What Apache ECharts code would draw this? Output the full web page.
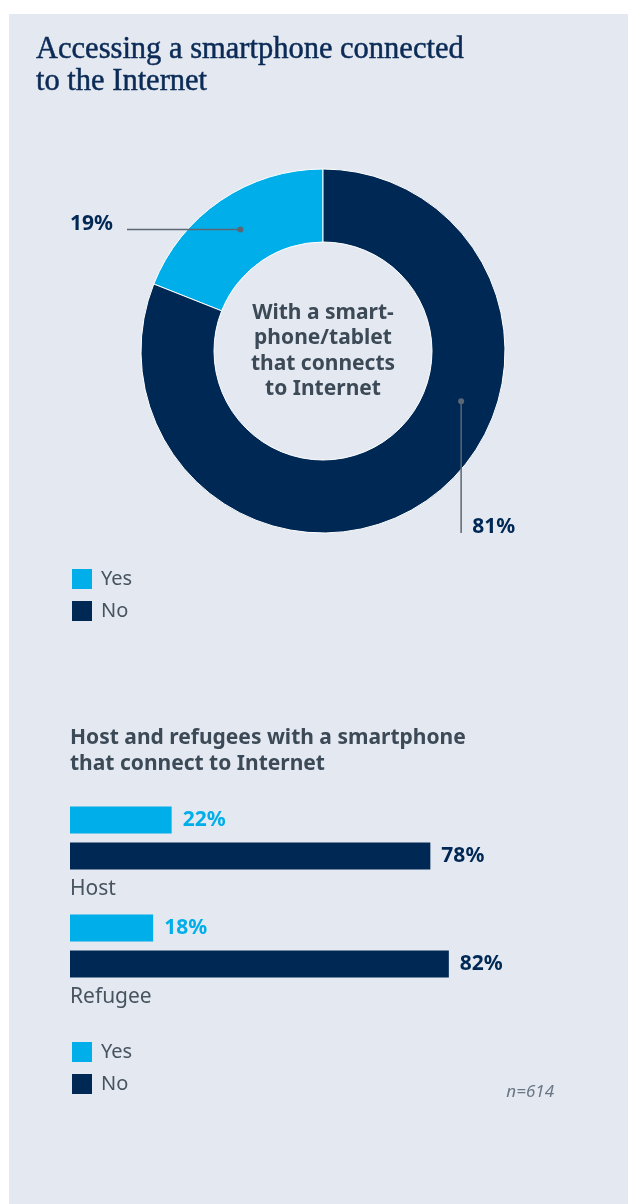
<!DOCTYPE html>
<html>
<head>
<meta charset="utf-8">
<title>Accessing a smartphone connected to the Internet</title>
<script src="https://cdn.jsdelivr.net/npm/echarts@6/dist/echarts.min.js"></script>
<style>
  html, body { margin: 0; padding: 0; background: #ffffff; }
  #panel { position: absolute; left: 9px; top: 14px; right: 1px; bottom: 0; background: #e4e9f1; }
  #chart { position: absolute; left: 0; top: 0; width: 629px; height: 1204px; }
</style>
</head>
<body>
<div id="panel"></div>
<div id="chart"></div>
<script>
// Survey results: smartphone / tablet with an Internet connection
const titleText = 'Accessing a smartphone connected\nto the Internet';
const donutCenterText = 'With a smart-\nphone/tablet\nthat connects\nto Internet';
const answerNames = ['Yes', 'No'];
const donutValues = [19, 81];

const barTitleText = 'Host and refugees with a smartphone\nthat connect to Internet';
const groupNames = ['Host', 'Refugee'];
const yesValues = [22, 18];
const noValues = [78, 82];
const sampleNote = 'n=614';

// Palette
const LIGHT_BLUE = '#00aee9';
const NAVY = '#002855';
const TITLE_NAVY = '#0b2b56';
const SLATE = '#3c4956';
const TEXT_GREY = '#47535f';
const LEADER = '#5b6773';

// Donut geometry
const CX = 323, CY = 351, R_IN = 109, R_OUT = 182;
const R_DOT = 147;
// Where each leader meets its segment (degrees clockwise from 12 o'clock);
// "Yes" uses the middle of its arc, "No" a point on the right of the ring.
const total = donutValues.reduce((a, b) => a + b, 0);
const dotAngles = [-(donutValues[0] / total) * 180, 110];

function dotPoint(i) {
  const a = dotAngles[i] * Math.PI / 180;
  return [CX + R_DOT * Math.sin(a), CY - R_DOT * Math.cos(a)];
}

// Leader path for each slice: from the dot to where its label sits
function leaderPath(i) {
  const d = dotPoint(i);
  if (i === 0) return [d, [CX - 196, d[1]]];
  return [d, [d[0], CY + 182]];
}

const chart = echarts.init(document.getElementById('chart'), null, { renderer: 'canvas' });

const sansFont = '"Noto Sans", "Open Sans", sans-serif';

function legendAt(top) {
  return {
    data: answerNames,
    orient: 'vertical',
    left: 72,
    top: top,
    padding: 0,
    icon: 'rect',
    itemWidth: 20,
    itemHeight: 20,
    itemGap: 12,
    selectedMode: false,
    textStyle: { fontSize: 20, color: TEXT_GREY, fontFamily: sansFont, padding: [0, 0, 0, 4] }
  };
}

const option = {
  backgroundColor: 'transparent',
  animation: false,
  textStyle: { fontFamily: sansFont },
  legend: [legendAt(569), legendAt(1042)],
  grid: { left: 70, top: 784, width: 462, height: 216, containLabel: false },
  xAxis: { type: 'value', min: 0, max: 100, show: false },
  yAxis: {
    type: 'category',
    data: groupNames,
    inverse: true,
    axisLine: { show: false },
    axisTick: { show: false },
    splitLine: { show: false },
    axisLabel: {
      inside: true,
      margin: 0,
      verticalAlign: 'top',
      padding: [38, 0, 0, 0],
      lineHeight: 26,
      fontSize: 21,
      color: TEXT_GREY,
      fontFamily: sansFont
    }
  },
  series: [
    {
      type: 'pie',
      name: 'Smartphone connected',
      center: [CX, CY],
      radius: [R_IN, R_OUT],
      startAngle: 90,
      clockwise: false,
      avoidLabelOverlap: false,
      itemStyle: { borderColor: '#ffffff', borderWidth: 1 },
      emphasis: { disabled: true },
      data: answerNames.map((n, i) => ({
        name: n,
        value: donutValues[i],
        itemStyle: { color: i === 0 ? LIGHT_BLUE : NAVY }
      })),
      label: {
        show: true,
        position: 'outside',
        formatter: '{c}%',
        fontSize: 21,
        fontWeight: 'bold',
        color: NAVY,
        fontFamily: sansFont
      },
      labelLine: { show: false },
      labelLayout: function (p) {
        const end = leaderPath(p.dataIndex)[1];
        if (p.dataIndex === 0) {
          return { x: end[0] - 14, y: end[1] - 5, align: 'right', verticalAlign: 'middle' };
        }
        return { x: end[0] + 11, y: end[1] - 6, align: 'left', verticalAlign: 'middle' };
      }
    },
    {
      type: 'bar',
      name: 'Yes',
      data: yesValues,
      barWidth: 27,
      barGap: '33.3%',
      itemStyle: { color: LIGHT_BLUE },
      emphasis: { disabled: true },
      label: {
        show: true, position: 'right', distance: 11, formatter: '{c}%',
        fontSize: 21, fontWeight: 'bold', color: LIGHT_BLUE, fontFamily: sansFont
      }
    },
    {
      type: 'bar',
      name: 'No',
      data: noValues,
      barWidth: 27,
      barGap: '33.3%',
      itemStyle: { color: NAVY },
      emphasis: { disabled: true },
      label: {
        show: true, position: 'right', distance: 11, formatter: '{c}%',
        fontSize: 21, fontWeight: 'bold', color: NAVY, fontFamily: sansFont
      }
    }
  ],
  graphic: [
    {
      type: 'text', x: 36, y: 34,
      style: {
        text: titleText, fill: TITLE_NAVY, stroke: TITLE_NAVY, lineWidth: 0.5,
        lineHeight: 32, font: '30.5px "Liberation Serif", serif',
        align: 'left', verticalAlign: 'top'
      }
    },
    {
      type: 'text', x: CX, y: 300,
      style: {
        text: donutCenterText, fill: SLATE, lineHeight: 25.5,
        font: 'bold 21px ' + sansFont, align: 'center', verticalAlign: 'top'
      }
    },
    {
      type: 'text', x: 70, y: 725,
      style: {
        text: barTitleText, fill: SLATE, lineHeight: 26,
        font: 'bold 21px ' + sansFont, align: 'left', verticalAlign: 'top'
      }
    },
    {
      type: 'text', x: 554, y: 1092,
      style: {
        text: sampleNote, fill: '#6a7684',
        font: 'italic 17px ' + sansFont, align: 'right', verticalAlign: 'middle'
      }
    },
    // donut leaders: a line from each dot out to its percentage label
    ...donutValues.map((v, i) => ({
      type: 'polyline', z: 100,
      shape: { points: leaderPath(i) },
      style: { stroke: LEADER, lineWidth: 1.5, fill: null }
    })),
    ...donutValues.map((v, i) => {
      const d = dotPoint(i);
      return { type: 'circle', z: 101, shape: { cx: d[0], cy: d[1], r: 3 }, style: { fill: LEADER } };
    })
  ]
};

chart.setOption(option);
</script>
</body>
</html>
